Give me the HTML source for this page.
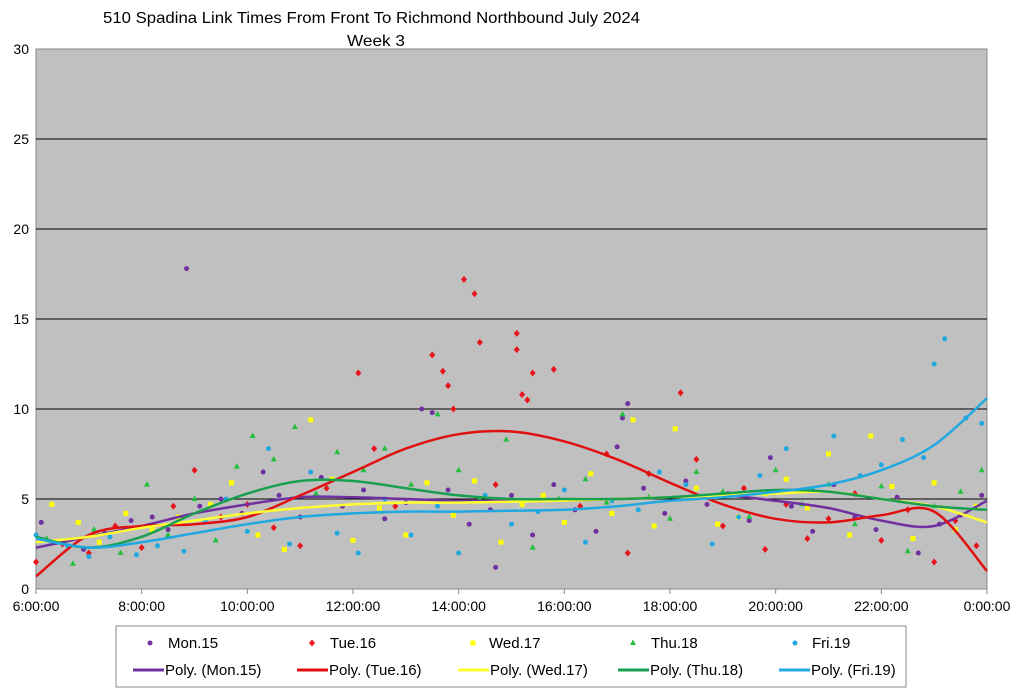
<!DOCTYPE html>
<html><head><meta charset="utf-8"><style>
body{margin:0;background:#fff;}
svg{display:block;font-family:"Liberation Sans",Arial,sans-serif;}
</style></head><body>
<svg id="chart" width="1024" height="692" viewBox="0 0 1024 692">
<text x="103" y="23" font-size="16" textLength="537" lengthAdjust="spacingAndGlyphs">510 Spadina Link Times From Front To Richmond Northbound July 2024</text>
<text x="347" y="46" font-size="16" textLength="58" lengthAdjust="spacingAndGlyphs">Week 3</text>
<rect x="36" y="49" width="951" height="540" fill="#c0c0c0" stroke="#888"/>
<g id="grid"></g><g id="axes"></g><g id="pts"></g><g id="lines"></g>
<g>
<rect x="116" y="626" width="790" height="61" fill="#fff" stroke="#888"/>
<g id="leg"></g>
</g>
</svg>
<script>
const yTicks=[0,5,10,15,20,25,30];
const xTickLabels=["6:00:00","8:00:00","10:00:00","12:00:00","14:00:00","16:00:00","18:00:00","20:00:00","22:00:00","0:00:00"];
const xTickHours=[6,8,10,12,14,16,18,20,22,24];
const seriesNames=["Mon.15","Tue.16","Wed.17","Thu.18","Fri.19"];
const monT=[6.1,6.4,6.9,7.3,7.8,8.2,8.5,8.85,9.1,9.5,9.9,10.3,10.6,11.0,11.4,11.8,12.2,12.6,13.0,13.3,13.5,13.8,14.2,14.6,14.7,15.0,15.4,15.8,16.2,16.6,17.0,17.1,17.2,17.5,17.9,18.3,18.7,19.1,19.5,19.9,20.3,20.7,21.1,21.5,21.9,22.3,22.7,23.1,23.5,23.9];
const monV=[3.7,2.6,2.2,3.1,3.8,4.0,3.3,17.8,4.6,5.0,4.2,6.5,5.2,4.0,6.2,4.6,5.5,3.9,4.8,10.0,9.8,5.5,3.6,4.4,1.2,5.2,3.0,5.8,4.4,3.2,7.9,9.5,10.3,5.6,4.2,6.0,4.7,5.3,3.8,7.3,4.6,3.2,5.8,4.0,3.3,5.1,2.0,3.6,4.1,5.2];
const tueT=[6.0,6.5,7.0,7.5,8.0,8.6,9.0,9.5,10.0,10.5,11.0,11.5,12.1,12.4,12.8,13.5,13.7,13.8,13.9,14.1,14.3,14.4,14.7,15.1,15.1,15.2,15.3,15.4,15.8,16.3,16.8,17.2,17.6,18.2,18.5,19.0,19.4,19.8,20.2,20.6,21.0,21.5,22.0,22.5,23.0,23.4,23.8];
const tueV=[1.5,2.5,2.0,3.5,2.3,4.6,6.6,4.0,4.7,3.4,2.4,5.6,12.0,7.8,4.6,13.0,12.1,11.3,10.0,17.2,16.4,13.7,5.8,14.2,13.3,10.8,10.5,12.0,12.2,4.6,7.5,2.0,6.4,10.9,7.2,3.5,5.6,2.2,4.7,2.8,3.9,5.3,2.7,4.4,1.5,3.8,2.4];
const wedT=[6.3,6.8,7.2,7.7,8.2,8.7,9.3,9.7,10.2,10.7,11.2,11.6,12.0,12.5,13.0,13.4,13.9,14.3,14.8,15.2,15.6,16.0,16.5,16.9,17.3,17.7,18.1,18.5,18.9,19.3,19.8,20.2,20.6,21.0,21.4,21.8,22.2,22.6,23.0,23.4,23.8];
const wedV=[4.7,3.7,2.6,4.2,3.3,4.0,4.7,5.9,3.0,2.2,9.4,6.1,2.7,4.5,3.0,5.9,4.1,6.0,2.6,4.7,5.2,3.7,6.4,4.2,9.4,3.5,8.9,5.6,3.6,4.0,5.3,6.1,4.5,7.5,3.0,8.5,5.7,2.8,5.9,3.3,4.6];
const thuT=[6.2,6.7,7.1,7.6,8.1,8.5,9.0,9.4,9.8,10.1,10.5,10.9,11.3,11.7,12.2,12.6,13.1,13.6,14.0,14.4,14.9,15.4,15.9,16.4,16.8,17.1,17.6,18.0,18.5,19.0,19.5,20.0,20.5,21.0,21.5,22.0,22.5,23.0,23.5,23.9];
const thuV=[2.8,1.4,3.3,2.0,5.8,3.0,5.0,2.7,6.8,8.5,7.2,9.0,5.3,7.6,6.6,7.8,5.8,9.7,6.6,5.0,8.3,2.3,5.0,6.1,4.8,9.7,5.1,3.9,6.5,5.4,4.0,6.6,4.7,5.8,3.6,5.7,2.1,4.6,5.4,6.6];
const friT=[6.0,6.6,7.0,7.4,7.9,8.3,8.8,9.2,9.6,10.0,10.4,10.8,11.2,11.7,12.1,12.6,13.1,13.6,14.0,14.5,15.0,15.5,16.0,16.4,16.9,17.4,17.8,18.3,18.8,19.3,19.7,20.2,20.7,21.1,21.6,22.0,22.4,22.8,23.0,23.2,23.6,23.9];
const friV=[3.0,2.4,1.8,2.9,1.9,2.4,2.1,3.8,5.0,3.2,7.8,2.5,6.5,3.1,2.0,5.0,3.0,4.6,2.0,5.2,3.6,4.3,5.5,2.6,4.9,4.4,6.5,5.8,2.5,4.0,6.3,7.8,5.5,8.5,6.3,6.9,8.3,7.3,12.5,13.9,9.5,9.2];
const trendH=[6,7,8,9,10,11,12,13,14,15,16,17,18,19,20,21,22,23,24];
const monTrend=[2.3,2.9,3.5,4.2,4.7,5.1,5.1,5.0,4.9,4.9,4.9,5.0,5.1,5.2,4.9,4.5,3.8,3.5,4.9];
const tueTrend=[0.7,3.0,3.5,3.6,4.0,5.2,6.5,7.8,8.6,8.75,8.2,7.2,5.9,4.7,3.9,3.7,4.1,4.3,1.0];
const wedTrend=[2.6,2.9,3.4,3.8,4.2,4.5,4.7,4.8,4.8,4.85,4.9,5.0,5.1,5.2,5.3,5.4,5.0,4.6,3.7];
const thuTrend=[2.9,2.3,2.9,4.2,5.3,6.0,6.0,5.6,5.2,5.0,5.0,5.0,5.1,5.3,5.5,5.4,5.0,4.6,4.4];
const friTrend=[2.8,2.3,2.6,3.1,3.6,4.0,4.2,4.3,4.3,4.35,4.4,4.6,4.9,5.1,5.4,5.8,6.6,8.0,10.6];
const colors=["#7030a0","#e8141c","#ffff00","#22c03c","#20a8e0"];
const lineColors=["#7030a0","#e01010","#ffff30","#18a050","#20a8e0"];
const NS="http://www.w3.org/2000/svg";
const X=h=>36+(h-6)*951/18, Y=v=>589-v*18;
function mk(tag,at,parent){const e=document.createElementNS(NS,tag);for(const k in at)e.setAttribute(k,at[k]);parent.appendChild(e);return e;}
const grid=document.getElementById('grid'),axes=document.getElementById('axes');
yTicks.forEach(v=>{
  if(v>0&&v<30){const l=mk('line',{x1:36,x2:987,y1:Y(v),y2:Y(v),stroke:'#000','stroke-width':1},grid);
  
  }
  const t=mk('text',{x:29,y:Y(v)+5,'text-anchor':'end','font-size':14},axes);t.textContent=v;
  
  
});
xTickHours.forEach((h,i)=>{
  mk('line',{x1:X(h),x2:X(h),y1:589,y2:594,stroke:'#888'},axes);
  const t=mk('text',{x:X(h),y:611,'text-anchor':'middle','font-size':14},axes);t.textContent=xTickLabels[i];
  
  
});
function marker(i,x,y,p){
  let e;
  if(i===0||i===4)e=mk('circle',{cx:x,cy:y,r:2.5,fill:colors[i]},p);
  else if(i===1)e=mk('polygon',{points:`${x},${y-3.5} ${x+3},${y} ${x},${y+3.5} ${x-3},${y}`,fill:colors[i]},p);
  else if(i===2)e=mk('rect',{x:x-2.5,y:y-2.5,width:5,height:5,fill:colors[i]},p);
  else e=mk('polygon',{points:`${x},${y-3.5} ${x+3},${y+2} ${x-3},${y+2}`,fill:colors[i]},p);
  return e;
}
const ts=[monT,tueT,wedT,thuT,friT],vs=[monV,tueV,wedV,thuV,friV],trs=[monTrend,tueTrend,wedTrend,thuTrend,friTrend];
const pts=document.getElementById('pts'),lines=document.getElementById('lines');
ts.forEach((T,i)=>T.forEach((h,j)=>{const e=marker(i,X(h),Y(vs[i][j]),pts);
  
  }));
function smooth(P){let d=`M${P[0][0]},${P[0][1]}`;for(let i=0;i<P.length-1;i++){const p0=P[i-1]||P[i],p1=P[i],p2=P[i+1],p3=P[i+2]||p2;
  d+=` C${p1[0]+(p2[0]-p0[0])/6},${p1[1]+(p2[1]-p0[1])/6} ${p2[0]-(p3[0]-p1[0])/6},${p2[1]-(p3[1]-p1[1])/6} ${p2[0]},${p2[1]}`;}return d;}
trs.forEach((tr,i)=>{const P=trendH.map((h,j)=>[X(h),Y(tr[j])]);
  const e=mk('path',{d:smooth(P),fill:'none',stroke:lineColors[i],'stroke-width':2.5},lines);
  
  });
const leg=document.getElementById('leg');
const mX=[150,312,473,633,795], mTX=[168,330,489,651,812], lX=[133,297,458,618,779];
seriesNames.forEach((n,i)=>{
  const g=mk('g',{},leg);
  
  
  marker(i,mX[i],643,g);
  const t=mk('text',{x:mTX[i],y:648,'font-size':15},g);t.textContent=n;
  const g2=mk('g',{},leg);
  
  
  mk('line',{x1:lX[i],x2:lX[i]+31,y1:670,y2:670,stroke:lineColors[i],'stroke-width':3},g2);
  const t2=mk('text',{x:lX[i]+32,y:675,'font-size':15},g2);t2.textContent='Poly. ('+n+')';
});
</script>
</body></html>
